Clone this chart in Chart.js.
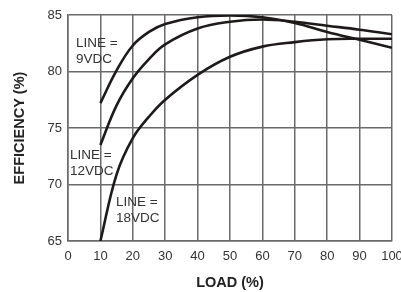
<!DOCTYPE html>
<html>
<head>
<meta charset="utf-8">
<script src="https://cdn.jsdelivr.net/npm/chart.js@4/dist/chart.umd.min.js"></script>
<style>
html,body{margin:0;padding:0;background:#fff;}
#wrap{width:401px;height:292px;}
</style>
</head>
<body>
<div id="wrap"><canvas id="c" width="401" height="292"></canvas></div>
<script>
const loadPct = [10, 15, 20, 25, 30, 40, 50, 60, 70, 80, 90, 100];
const eff9V  = [77.2, 80.1, 82.3, 83.5, 84.2, 84.8, 84.95, 84.8, 84.3, 83.5, 82.8, 82.1];
const eff12V = [73.5, 77.0, 79.4, 81.1, 82.4, 83.8, 84.4, 84.6, 84.4, 84.05, 83.7, 83.3];
const eff18V = [65.0, 70.9, 74.1, 76.0, 77.5, 79.7, 81.3, 82.2, 82.6, 82.85, 82.9, 82.9];
const xTicks = [0, 10, 20, 30, 40, 50, 60, 70, 80, 90, 100];
const yTicks = [65, 70, 75, 80, 85];
const seriesLabels = [["LINE =", "9VDC"], ["LINE =", "12VDC"], ["LINE =", "18VDC"]];
const labelAnchors = [[2.5, 82.5], [0.6, 72.6], [14.8, 68.4]];

const toPts = ys => loadPct.map((x, i) => ({x: x, y: ys[i]}));
const lineStyle = {borderColor: '#1e1a1a', borderWidth: 2.6, pointRadius: 0, fill: false, tension: 0.4};

const labelPlugin = {
  id: 'seriesLabels',
  afterDatasetsDraw(chart) {
    const ctx = chart.ctx, xs = chart.scales.x, ys = chart.scales.y;
    ctx.save();
    ctx.font = '13.5px "Liberation Sans", Arial, sans-serif';
    ctx.fillStyle = '#333';
    ctx.textAlign = 'left';
    ctx.textBaseline = 'middle';
    seriesLabels.forEach((lines, i) => {
      const px = xs.getPixelForValue(labelAnchors[i][0]);
      const py = ys.getPixelForValue(labelAnchors[i][1]);
      lines.forEach((t, j) => ctx.fillText(t, px, py + j * 16));
    });
    ctx.restore();
  }
};

new Chart(document.getElementById('c'), {
  type: 'line',
  data: {
    datasets: [
      Object.assign({label: '9VDC', data: toPts(eff9V)}, lineStyle),
      Object.assign({label: '12VDC', data: toPts(eff12V)}, lineStyle),
      Object.assign({label: '18VDC', data: toPts(eff18V)}, lineStyle)
    ]
  },
  options: {
    responsive: false,
    animation: false,
    events: [],
    layout: {padding: {top: 15, right: 9, left: 0, bottom: 0}},
    plugins: {legend: {display: false}, tooltip: {enabled: false}},
    scales: {
      x: {
        type: 'linear', min: 0, max: 100,
        afterBuildTicks: s => { s.ticks = xTicks.map(v => ({value: v})); },
        afterFit: s => { s.height = 51; s.paddingLeft = 0; s.paddingRight = 0; },
        grid: {color: '#6a6a6a', lineWidth: 1.5, drawTicks: false},
        border: {color: '#6a6a6a', width: 1.5},
        ticks: {padding: 8, color: '#333', font: {family: '"Liberation Sans", Arial, sans-serif', size: 13}, maxRotation: 0, autoSkip: false},
        title: {display: true, text: 'LOAD (%)', color: '#222', font: {family: '"Liberation Sans", Arial, sans-serif', size: 14.5, weight: 'bold'}, padding: {top: 4, bottom: 0}}
      },
      y: {
        type: 'linear', min: 65, max: 85,
        afterBuildTicks: s => { s.ticks = yTicks.map(v => ({value: v})); },
        afterFit: s => { s.width = 68; },
        grid: {color: '#6a6a6a', lineWidth: 1.5, drawTicks: false},
        border: {color: '#6a6a6a', width: 1.5},
        ticks: {padding: 6, color: '#333', font: {family: '"Liberation Sans", Arial, sans-serif', size: 13}, autoSkip: false},
        title: {display: true, text: 'EFFICIENCY (%)', color: '#222', font: {family: '"Liberation Sans", Arial, sans-serif', size: 14.5, weight: 'bold'}, padding: {top: 11, bottom: 0}}
      }
    }
  },
  plugins: [labelPlugin]
});
</script>
</body>
</html>
